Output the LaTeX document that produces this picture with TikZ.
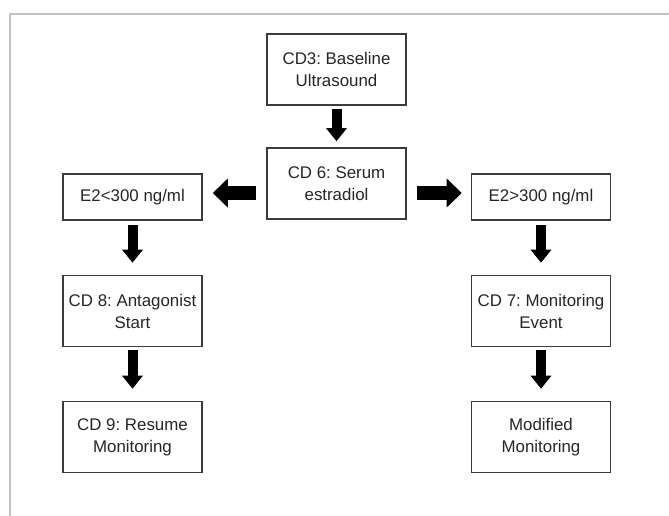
\documentclass[tikz,border=0pt]{standalone}
\usepackage{fontspec}
\setmainfont{Liberation Sans}
\usepackage{tikz}
\usetikzlibrary{positioning,arrows.meta}
\definecolor{framegray}{HTML}{C4C4C4}
\definecolor{boxline}{HTML}{3C3C3C}
\tikzset{
  stepbox/.style={draw=boxline, line width=1.3pt, align=center, minimum width=4.17cm, minimum height=2.13cm, inner sep=2pt},
  condbox/.style={stepbox, minimum height=1.38cm},
  blockarrow/.style={line width=0.3cm, -{Triangle[width=0.6cm, length=0.39cm]}},
  widearrow/.style={line width=0.4cm, -{Triangle[width=0.84cm, length=0.45cm]}}
}
\frenchspacing

\begin{document}
\begin{tikzpicture}[font=\fontsize{14.4}{18.8}\selectfont, text=black!85]
  \useasboundingbox (0,0) rectangle (20.07,-15.48);
  \draw[framegray, line width=1pt] (0.30,-15.48) -- (0.30,-0.42) -- (20.07,-0.42);

  \node[stepbox] (cd3) at (10.095,-2.085) {CD3: Baseline\\ Ultrasound};
  \node[stepbox] (cd6) at (10.095,-5.505) {CD 6: Serum\\ estradiol};

  \node[condbox] (low) at (3.975,-5.91) {E2<300 ng/ml};
  \node[condbox] (high) at (16.23,-5.91) {E2>300 ng/ml};

  \node[stepbox] (cd8) at (3.975,-9.33) {CD 8: Antagonist\\ Start};
  \node[stepbox] (cd7) at (16.23,-9.33) {CD 7: Monitoring\\ Event};

  \node[stepbox] (cd9) at (3.975,-13.11) {CD 9: Resume\\ Monitoring};
  \node[stepbox] (modified) at (16.23,-13.11) {Modified\\ Monitoring};

  \draw[blockarrow, shorten <=0.09cm, shorten >=0.18cm] (cd3) -- (cd6);

  \draw[widearrow, shorten <=0.3cm, shorten >=0.3cm] ([yshift=1.2mm]cd6.west |- low.east) -- ([yshift=1.2mm]low.east);
  \draw[widearrow, shorten <=0.3cm, shorten >=0.27cm] ([yshift=1.2mm]cd6.east |- high.west) -- ([yshift=1.2mm]high.west);

  \draw[blockarrow, shorten <=0.12cm, shorten >=0.36cm] (low) -- (cd8);
  \draw[blockarrow, shorten <=0.09cm, shorten >=0.36cm] (cd8) -- (cd9);
  \draw[blockarrow, shorten <=0.12cm, shorten >=0.36cm] (high) -- (cd7);
  \draw[blockarrow, shorten <=0.09cm, shorten >=0.36cm] (cd7) -- (modified);
\end{tikzpicture}
\end{document}
